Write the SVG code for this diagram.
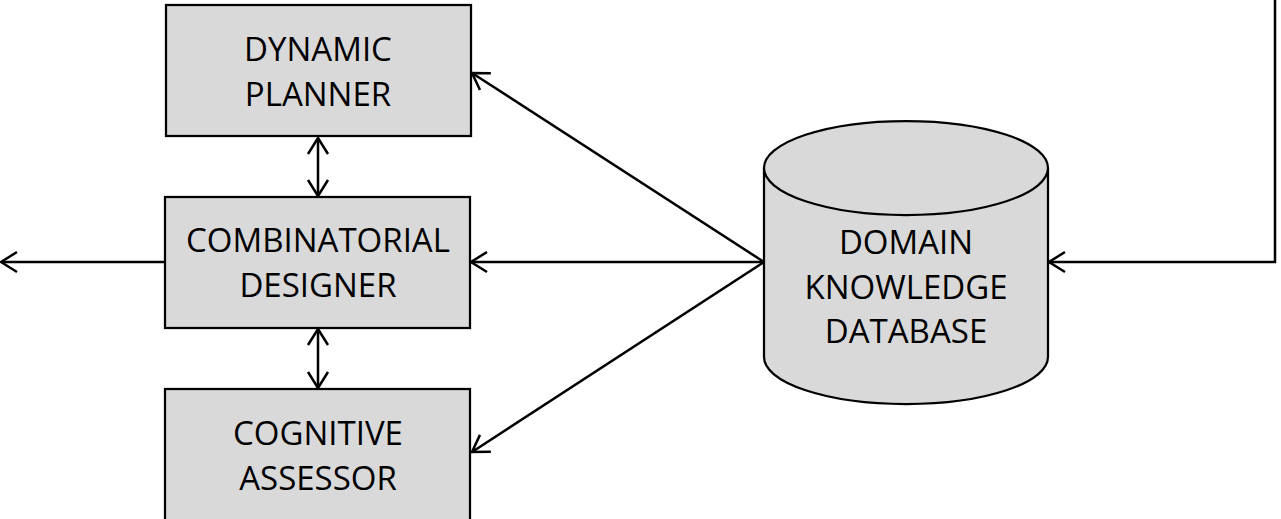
<svg xmlns="http://www.w3.org/2000/svg" width="1281" height="519" viewBox="0 0 1281 519">
  <style>
    .node { fill: #d9d9d9; stroke: #000; stroke-width: 2.25; }
    .label { font-family: "Open Sans", "Liberation Sans", sans-serif; font-size: 33px; fill: #000; text-anchor: middle; }
    .wire { fill: none; stroke: #000; stroke-width: 2.5; }
  </style>
  <defs>
    <marker id="arrow" viewBox="-20 -12 22 24" refX="0" refY="0" markerWidth="22" markerHeight="24" markerUnits="userSpaceOnUse" orient="auto-start-reverse">
      <path d="M-16,-10 L0,0 L-16,10" fill="none" stroke="#000" stroke-width="2.5"/>
    </marker>
  </defs>

  <rect width="1281" height="519" fill="#fff"/>

  <g id="dynamic-planner">
    <rect class="node" x="166" y="5" width="305" height="131"/>
    <text class="label" x="318" y="61">DYNAMIC</text>
    <text class="label" x="318" y="106">PLANNER</text>
  </g>

  <g id="combinatorial-designer">
    <rect class="node" x="165" y="197" width="305" height="131"/>
    <text class="label" x="318" y="252">COMBINATORIAL</text>
    <text class="label" x="318" y="297">DESIGNER</text>
  </g>

  <g id="cognitive-assessor">
    <rect class="node" x="165" y="389" width="305" height="140"/>
    <text class="label" x="318" y="445">COGNITIVE</text>
    <text class="label" x="318" y="490">ASSESSOR</text>
  </g>

  <g id="domain-knowledge-database">
    <path class="node" d="M764,168 L764,357 A142,47 0 0 0 1048,357 L1048,168"/>
    <ellipse class="node" cx="906" cy="168" rx="142" ry="47"/>
    <text class="label" x="906" y="254">DOMAIN</text>
    <text class="label" x="906" y="299">KNOWLEDGE</text>
    <text class="label" x="906" y="343">DATABASE</text>
  </g>

  <g id="connectors">
    <line class="wire" x1="764" y1="262" x2="472" y2="73" marker-end="url(#arrow)"/>
    <line class="wire" x1="764" y1="262" x2="471" y2="262" marker-end="url(#arrow)"/>
    <line class="wire" x1="764" y1="262" x2="472" y2="452" marker-end="url(#arrow)"/>
    <line class="wire" x1="165" y1="262" x2="1" y2="262" marker-end="url(#arrow)"/>
    <polyline class="wire" points="1275,-2 1275,262 1049,262" marker-end="url(#arrow)"/>
    <line class="wire" x1="318" y1="138" x2="318" y2="196" marker-start="url(#arrow)" marker-end="url(#arrow)"/>
    <line class="wire" x1="318" y1="329" x2="318" y2="388" marker-start="url(#arrow)" marker-end="url(#arrow)"/>
  </g>
</svg>
